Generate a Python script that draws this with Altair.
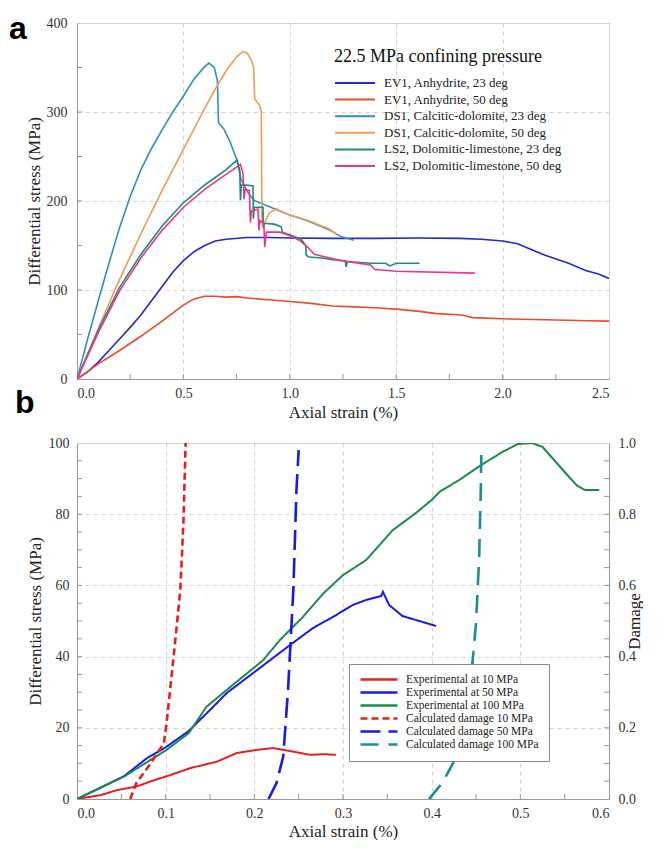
import altair as alt
import pandas as pd

FONT = "Liberation Serif"
W, H = 532, 356

# ---------------- Panel a data ----------------
a_names = ["EV1, Anhydrite, 23 deg", "EV1, Anhydrite, 50 deg",
           "DS1, Calcitic-dolomite, 23 deg", "DS1, Calcitic-dolomite, 50 deg",
           "LS2, Dolomitic-limestone, 23 deg", "LS2, Dolomitic-limestone, 50 deg"]
a_colors = ["#2626d2", "#ec4a2c", "#2e8fc4", "#f39a52", "#1b8c7a", "#e8388e"]

ev1_23_x = [0, 0.05, 0.1, 0.15, 0.2, 0.25, 0.3, 0.35, 0.4, 0.45, 0.5, 0.55, 0.6, 0.65, 0.7, 0.8, 0.9, 1.0,
            1.2, 1.4, 1.6, 1.8, 1.9, 2.0, 2.07, 2.14, 2.2, 2.31, 2.39, 2.45, 2.5]
ev1_23_y = [0, 8, 19, 32, 45, 58, 72, 88, 104, 120, 133, 143, 150, 155, 157, 159, 159, 158.5,
            158, 158, 158.5, 158, 157, 155, 152, 145, 139, 130, 122, 118, 113]

ev1_50_x = [0, 0.1, 0.2, 0.3, 0.4, 0.5, 0.55, 0.6, 0.65, 0.7, 0.75, 0.8, 0.9, 1.0, 1.1, 1.2, 1.3, 1.4,
            1.5, 1.61, 1.69, 1.81, 1.86, 2.03, 2.2, 2.4, 2.5]
ev1_50_y = [0, 17, 32, 48, 65, 83, 90, 93, 93, 92, 92.5, 91, 89, 87, 85, 82, 81, 80,
            78.5, 76, 73.5, 72, 69, 67.5, 66.5, 65.5, 65]

ds1_23_x = [0, 0.05, 0.1, 0.15, 0.2, 0.25, 0.3, 0.35, 0.4, 0.45, 0.5, 0.55, 0.6, 0.62, 0.645, 0.66,
            0.665, 0.69, 0.72, 0.75, 0.77, 0.8, 0.83, 0.87, 0.93, 0.99, 1.08, 1.19, 1.24, 1.30]
ds1_23_y = [0, 45, 88, 130, 170, 205, 235, 259, 280, 300, 318, 337, 351, 355, 350, 335,
            288, 281, 266, 247, 225, 211, 201, 197, 191, 185, 178, 167, 160, 156]

ds1_50_x = [0, 0.1, 0.2, 0.3, 0.4, 0.5, 0.6, 0.65, 0.7, 0.75, 0.78, 0.8, 0.82, 0.83, 0.835, 0.85,
            0.86, 0.866, 0.869, 0.875, 0.89, 0.905, 0.936, 0.99, 1.085, 1.18, 1.22]
ds1_50_y = [0, 57, 112, 163, 212, 258, 304, 326, 346, 362, 368, 366, 358, 350, 315, 310,
            307, 300, 180, 171, 180, 187, 191, 185, 178, 169, 163]

ls2_23_x = [0, 0.1, 0.2, 0.3, 0.4, 0.5, 0.6, 0.7, 0.752, 0.765, 0.768, 0.772, 0.796, 0.827, 0.829,
            0.833, 0.874, 0.876, 0.88, 0.927, 0.96, 0.965, 0.99, 1.053, 1.075, 1.077, 1.09, 1.15,
            1.2, 1.26, 1.265, 1.27, 1.38, 1.45, 1.47, 1.5, 1.61]
ls2_23_y = [0, 55, 103, 140, 172, 198, 218, 235, 246, 235, 201, 218, 218, 217, 180,
            193, 193, 170, 175, 174, 171, 165, 163, 157, 150, 139, 137, 136,
            134, 133, 126, 132, 130, 130, 127, 130, 130]

ls2_50_x = [0, 0.1, 0.2, 0.3, 0.4, 0.5, 0.6, 0.7, 0.768, 0.78, 0.785, 0.79, 0.81, 0.815, 0.82, 0.85,
            0.855, 0.86, 0.878, 0.882, 0.89, 0.952, 0.98, 1.045, 1.085, 1.115, 1.24, 1.38, 1.40,
            1.5, 1.87]
ls2_50_y = [0, 52, 99, 136, 167, 193, 213, 230, 241, 232, 202, 213, 212, 176, 189, 191,
            167, 178, 175, 148, 165, 165, 163, 156, 148, 140, 133, 128, 123,
            121, 119]

a_xs = [ev1_23_x, ev1_50_x, ds1_23_x, ds1_50_x, ls2_23_x, ls2_50_x]
a_ys = [ev1_23_y, ev1_50_y, ds1_23_y, ds1_50_y, ls2_23_y, ls2_50_y]

a_xticks = [0.0, 0.5, 1.0, 1.5, 2.0, 2.5]
a_yticks = [0, 100, 200, 300, 400]
a_xminor = [0.25, 0.5, 0.75, 1.0, 1.25, 1.5, 1.75, 2.0, 2.25]
a_yminor = [50, 100, 150, 200, 250, 300, 350]

# ---------------- Panel b data ----------------
b_names = ["Experimental at 10 MPa", "Experimental at 50 MPa", "Experimental at 100 MPa",
           "Calculated damage 10 MPa", "Calculated damage 50 MPa", "Calculated damage 100 MPa"]
b_colors = ["#e8201c", "#1a1ae6", "#1c8a4a", "#e8201c", "#1a1ae6", "#1a8f8f"]
b_dashes = [[1, 0], [1, 0], [1, 0], [7, 4], [20, 8], [18, 10]]

exp10_x = [0, 0.027, 0.045, 0.067, 0.087, 0.105, 0.128, 0.158, 0.18, 0.203, 0.221, 0.244, 0.263, 0.278, 0.292]
exp10_y = [0, 1.1, 2.5, 3.5, 5.3, 6.7, 8.7, 10.5, 12.9, 13.8, 14.3, 13.3, 12.4, 12.6, 12.4]

exp50_x = [0, 0.053, 0.079, 0.101, 0.126, 0.15, 0.169, 0.203, 0.24, 0.266, 0.289, 0.311, 0.326,
           0.343, 0.345, 0.352, 0.367, 0.405]
exp50_y = [0, 6.4, 11.5, 14.7, 19.1, 25, 29.8, 36.2, 43.2, 48, 51.2, 54.5, 55.9,
           57, 58.2, 54.5, 51.4, 48.6]

exp100_x = [0, 0.053, 0.101, 0.126, 0.146, 0.173, 0.21, 0.229, 0.255, 0.278, 0.30, 0.326, 0.356,
            0.382, 0.40, 0.409, 0.431, 0.457, 0.48, 0.497, 0.513, 0.525, 0.536, 0.553, 0.564,
            0.573, 0.589]
exp100_y = [0, 6.3, 13.8, 18.5, 25.9, 31.5, 39, 44.7, 51.2, 57.8, 62.9, 67.1, 75.5,
            80.3, 84, 86.3, 89.6, 94, 97.5, 99.7, 100, 98.9, 95.8, 91, 88,
            86.8, 86.8]

dmg10_x = [0.06, 0.067, 0.083, 0.098, 0.101, 0.109, 0.1165, 0.12, 0.1225]
dmg10_y = [0, 0.045, 0.1, 0.157, 0.213, 0.4, 0.587, 0.775, 1.0]
dmg50_x = [0.216, 0.225, 0.2326, 0.238, 0.244, 0.2475, 0.25]
dmg50_y = [0, 0.045, 0.119, 0.306, 0.587, 0.868, 0.98]
dmg100_x = [0.397, 0.412, 0.424, 0.438, 0.446, 0.45, 0.4536, 0.4554, 0.456]
dmg100_y = [0, 0.045, 0.1, 0.213, 0.382, 0.494, 0.68, 0.868, 0.975]

b_xticks = [0.0, 0.1, 0.2, 0.3, 0.4, 0.5, 0.6]
b_yticks = [0, 20, 40, 60, 80, 100]
b_dticks = [0.0, 0.2, 0.4, 0.6, 0.8, 1.0]
b_xminor = [0.05, 0.1, 0.15, 0.2, 0.25, 0.3, 0.35, 0.4, 0.45, 0.5, 0.55]
b_yminor = [5, 10, 15, 20, 25, 30, 35, 40, 45, 50, 55, 60, 65, 70, 75, 80, 85, 90, 95]
b_dminor = [0.05, 0.1, 0.15, 0.2, 0.25, 0.3, 0.35, 0.4, 0.45, 0.5, 0.55, 0.6, 0.65, 0.7, 0.75,
            0.8, 0.85, 0.9, 0.95]

panel_labels = ["a", "b"]


def long_df(names, xs_list, ys_list, xname, yname, sname):
    rows = []
    for name, xs, ys in zip(names, xs_list, ys_list):
        for i, (x, y) in enumerate(zip(xs, ys)):
            rows.append({xname: x, yname: y, sname: name, "idx": i})
    return pd.DataFrame(rows)


df_a = long_df(a_names, a_xs, a_ys, "strain", "stress", "sample")
df_b_exp = long_df(b_names[:3], [exp10_x, exp50_x, exp100_x], [exp10_y, exp50_y, exp100_y],
                   "strain_b", "stress_b", "curve")
df_b_dmg = long_df(b_names[3:], [dmg10_x, dmg50_x, dmg100_x], [dmg10_y, dmg50_y, dmg100_y],
                   "strain_b", "damage", "curve")

AX = dict(labelFont=FONT, titleFont=FONT, labelFontSize=14, titleFontSize=17,
          titleFontWeight="normal", labelColor="#333", titleColor="#222",
          domainColor="#999", ticks=False, gridColor="#c8c8c8", gridDash=[4, 4],
          gridWidth=0.8)
TICK = "#999"

# ---------------- Panel a ----------------
xa = alt.X("strain:Q", scale=alt.Scale(domain=[0, 2.5], nice=False, zero=False),
           axis=alt.Axis(values=a_xticks, format=".1f", title="Axial strain (%)",
                         labelPadding=7, titlePadding=4, grid=True, **AX))
ya = alt.Y("stress:Q", scale=alt.Scale(domain=[0, 400], nice=False),
           axis=alt.Axis(values=a_yticks, format="d", title="Differential stress (MPa)",
                         labelPadding=10, titlePadding=3, grid=True, **AX))

lines_a = alt.Chart(df_a).mark_line(strokeWidth=1.6, clip=True).encode(
    x=xa, y=ya,
    color=alt.Color("sample:N", scale=alt.Scale(domain=a_names, range=a_colors),
                    legend=alt.Legend(title="22.5 MPa confining pressure", orient="none",
                                      legendX=257, legendY=25, symbolType="stroke",
                                      symbolSize=1600, symbolStrokeWidth=2,
                                      labelFont=FONT, labelFontSize=13, labelColor="#222",
                                      titleFont=FONT, titleFontSize=18, titleFontWeight="normal",
                                      titleColor="#111", clipHeight=16, rowPadding=0.6,
                                      labelOffset=8, titlePadding=9, padding=0,
                                      labelLimit=300, titleLimit=400)),
    order="idx:Q")

ticks_ax = alt.Chart(pd.DataFrame({"strain": a_xminor})).mark_rule(color=TICK).encode(
    x=xa, y=alt.value(H), y2=alt.value(H - 5))
ticks_ay = alt.Chart(pd.DataFrame({"stress": a_yminor})).mark_rule(color=TICK).encode(
    y=ya, x=alt.value(0), x2=alt.value(5))

lab_a = alt.Chart(pd.DataFrame({"t": [panel_labels[0]]})).mark_text(
    font="Liberation Sans", fontWeight="bold", fontSize=32, align="left",
    baseline="alphabetic", color="#000").encode(text="t:N", x=alt.value(-68), y=alt.value(16))
lab_b = alt.Chart(pd.DataFrame({"t": [panel_labels[1]]})).mark_text(
    font="Liberation Sans", fontWeight="bold", fontSize=32, align="left",
    baseline="alphabetic", color="#000").encode(text="t:N", x=alt.value(-62), y=alt.value(390))

panel_a = alt.layer(lines_a, ticks_ax, ticks_ay, lab_a, lab_b).properties(width=W, height=H)

# ---------------- Panel b ----------------
xb = alt.X("strain_b:Q", scale=alt.Scale(domain=[0, 0.6], nice=False, zero=False),
           axis=alt.Axis(values=b_xticks, format=".1f", title="Axial strain (%)",
                         labelPadding=7, titlePadding=3, grid=True, **AX))
yb = alt.Y("stress_b:Q", scale=alt.Scale(domain=[0, 100], nice=False),
           axis=alt.Axis(values=b_yticks, format="d", title="Differential stress (MPa)",
                         labelPadding=8, titlePadding=4, grid=True, **AX))
yd = alt.Y("damage:Q", scale=alt.Scale(domain=[0, 1], nice=False),
           axis=alt.Axis(values=b_dticks, format=".1f", title="Damage", orient="right",
                         labelPadding=9, titlePadding=8, titleAngle=270, grid=False, **AX))

leg_b = alt.Legend(title=None, orient="none", legendX=272, legendY=221, symbolType="stroke",
                   symbolSize=1369, symbolStrokeWidth=2.5, labelFont=FONT, labelFontSize=11.5,
                   labelColor="#222", clipHeight=11.2, rowPadding=0, labelOffset=7, padding=10,
                   strokeColor="#888", fillColor="white", labelLimit=300)
col_b = alt.Color("curve:N", scale=alt.Scale(domain=b_names, range=b_colors), legend=leg_b)
dash_b = alt.StrokeDash("curve:N", scale=alt.Scale(domain=b_names, range=b_dashes), legend=leg_b)

lines_exp = alt.Chart(df_b_exp).mark_line(strokeWidth=2, clip=True).encode(
    x=xb, y=yb, color=col_b, strokeDash=dash_b, order="idx:Q")
ticks_bx = alt.Chart(pd.DataFrame({"strain_b": b_xminor})).mark_rule(color=TICK).encode(
    x=xb, y=alt.value(H), y2=alt.value(H - 5))
ticks_by = alt.Chart(pd.DataFrame({"stress_b": b_yminor})).mark_rule(color=TICK).encode(
    y=yb, x=alt.value(0), x2=alt.value(5))

lines_dmg = alt.Chart(df_b_dmg).mark_line(strokeWidth=2.6, clip=True).encode(
    x=xb, y=yd, color=col_b, strokeDash=dash_b, order="idx:Q")
ticks_bd = alt.Chart(pd.DataFrame({"damage": b_dminor})).mark_rule(color=TICK).encode(
    y=yd, x=alt.value(W), x2=alt.value(W - 5))

left_b = alt.layer(lines_exp, ticks_bx, ticks_by)
right_b = alt.layer(lines_dmg, ticks_bd)
panel_b = alt.layer(left_b, right_b).resolve_scale(y="independent").properties(width=W, height=H)

chart = alt.vconcat(panel_a, panel_b, spacing=14).resolve_scale(
    x="independent", y="independent", color="independent", strokeDash="independent"
).properties(padding={"top": 4, "left": 0, "right": 0, "bottom": 0}).configure_view(
    stroke="#999", strokeWidth=1).configure(font=FONT)

chart.save("out.html", embed_options={"renderer": "svg", "actions": False})
